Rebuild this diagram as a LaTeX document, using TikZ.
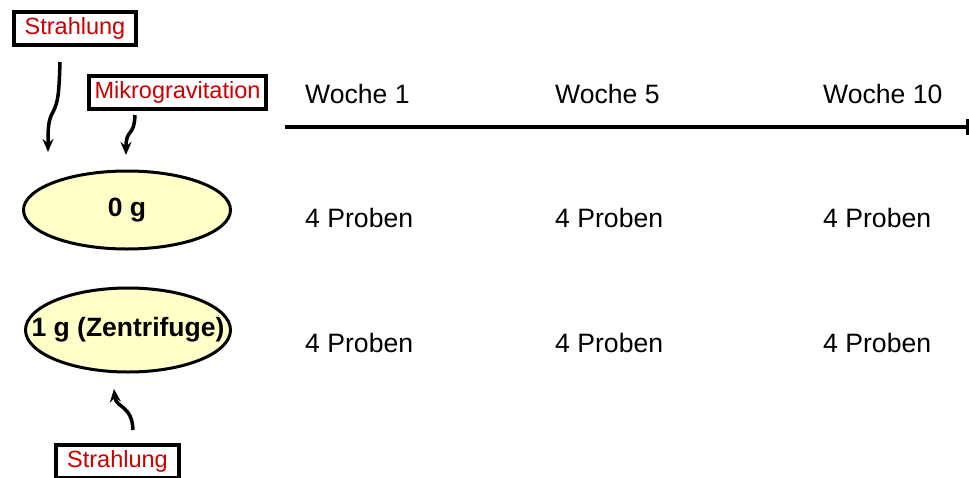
\documentclass[tikz,border=0pt]{standalone}
\usepackage{fontspec}
\setmainfont{Liberation Sans}
\usepackage{xcolor}
\usetikzlibrary{shapes,arrows.meta,positioning}
\definecolor{labelred}{RGB}{204,0,0}
\definecolor{probefill}{RGB}{255,255,200}

\begin{document}
\begin{tikzpicture}[x=1pt, y=-1pt,
    factor/.style={draw, line width=4pt, text=labelred, inner sep=0pt,
      minimum height=33pt, font=\fontsize{23.5}{27}\selectfont},
    gravity/.style={draw, ellipse, line width=3pt, fill=probefill, inner sep=0pt,
      font=\fontsize{26.5}{30}\bfseries},
    timelabel/.style={anchor=base west, inner sep=0pt, font=\fontsize{26.6}{30}\selectfont},
    wiggle/.style={line width=3.5pt, -{Stealth[length=13pt, width=11pt]}}]
  \useasboundingbox (0,0) rectangle (969,477);

  % Einflussfaktoren
  \node[factor, minimum width=122pt] (rayTop) at (75,28.5) {Strahlung};
  \node[factor, minimum width=177pt] (micro) at (177.5,92) {Mikrogravitation};
  \node[factor, minimum width=123pt] (rayBottom) at (117.5,461) {Strahlung};

  % Proben
  \node[gravity, minimum width=207pt, minimum height=78pt] (zero) at (127,210) {\makebox[0pt]{0 g}};
  \node[gravity, minimum width=205pt, minimum height=84pt] (one) at (128,330) {\makebox[0pt]{1 g (Zentrifuge)}};

  % Pfeile
  \coordinate (rayTopStart) at (60,62);
  \coordinate (rayTopKink) at (53,112);
  \coordinate (rayTopEnd) at (48,152);
  \coordinate (microStart) at (135,115);
  \coordinate (microEnd) at (126,155);
  \coordinate (rayBottomStart) at (133,430);
  \coordinate (rayBottomEnd) at (114,389);
  \draw[wiggle] (rayTopStart) .. controls (59,95) and (58,102) .. (rayTopKink)
    .. controls (48,120) and (48,130) .. (rayTopEnd);
  \draw[wiggle] (microStart) .. controls (134,138) and (126,128) .. (microEnd);
  \draw[wiggle] (rayBottomStart) .. controls (132,405) and (116,408) .. (rayBottomEnd);

  % Zeitachse
  \coordinate (axisStart) at (285,127);
  \coordinate (axisEnd) at (969,127);
  \draw[line width=3.5pt, -{Bar[width=16pt, line width=3.5pt]}] (axisStart) -- (axisEnd);

  \node[timelabel] (week1) at (305,103) {Woche 1};
  \node[timelabel] (week5) at (555,103) {Woche 5};
  \node[timelabel] (week10) at (823,103) {Woche 10};

  \node[timelabel] (zeroA) at (305,227) {4 Proben};
  \node[timelabel] (zeroB) at (555,227) {4 Proben};
  \node[timelabel] (zeroC) at (823,227) {4 Proben};
  \node[timelabel] (oneA) at (305,352) {4 Proben};
  \node[timelabel] (oneB) at (555,352) {4 Proben};
  \node[timelabel] (oneC) at (823,352) {4 Proben};
\end{tikzpicture}
\end{document}
